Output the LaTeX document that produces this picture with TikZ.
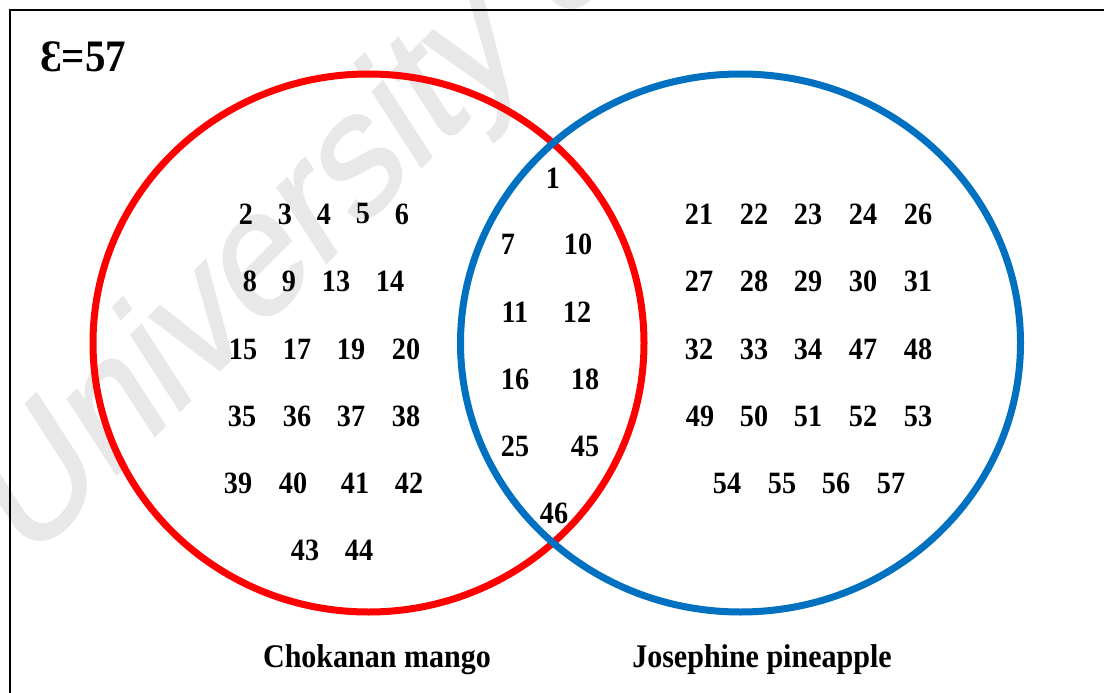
\documentclass[tikz,border=0pt]{standalone}
\usepackage{fontspec}
\setmainfont{Liberation Serif}[FakeStretch=0.91]
\newfontfamily\markfont{Liberation Sans}[FakeBold=1.2]
\definecolor{setred}{HTML}{FF0000}
\definecolor{setblue}{HTML}{0070C0}
\definecolor{markgray}{HTML}{E8E8E8}
\tikzset{
  setline/.style={line width=7pt},
  num/.style={inner sep=0pt, font=\bfseries\fontsize{31}{31}\selectfont},
  setlabel/.style={inner sep=0pt, anchor=base, font=\bfseries\fontsize{33}{33}\selectfont},
  universe/.style={inner sep=0pt, anchor=base west, font=\bfseries\fontsize{45}{45}\selectfont},
  frame/.style={draw=black, line width=2pt},
  wmark/.style={inner sep=0pt, anchor=base west, transform shape, text=markgray,
    font=\markfont\fontsize{147}{147}\selectfont}
}
\begin{document}
\begin{tikzpicture}[x=1pt, y=-1pt]
\useasboundingbox (0,0) rectangle (1104,693);
\clip (0,0) rectangle (1104,693);
\fill[white] (0,0) rectangle (1104,693);

% watermark, slanted and stretched, beneath everything else
\begin{scope}[shift={(26,566)}, yscale=1.25, rotate=38.9]
  \node[wmark] (wm) at (0,0) {University of};
\end{scope}

% outer frame of the universal set
\draw[frame] (9.5,10) rectangle (1120,710);
\node[universe] (U) at (40,72) {Ɛ=57};

% the two sets
\draw[setline, setred] (368.5,343) ellipse [x radius=275.5, y radius=269];
\draw[setline, setblue] (740.5,343) ellipse [x radius=280, y radius=269];

% Chokanan mango only
\node[num] (n2) at (246,214) {2};
\node[num] (n3) at (285,214) {3};
\node[num] (n4) at (324,214) {4};
\node[num] (n5) at (363,214) {5};
\node[num] (n6) at (402,214) {6};
\node[num] (n8) at (250,281) {8};
\node[num] (n9) at (289,281) {9};
\node[num] (n13) at (336,281) {13};
\node[num] (n14) at (390,281) {14};
\node[num] (n15) at (243,349) {15};
\node[num] (n17) at (297,349) {17};
\node[num] (n19) at (351,349) {19};
\node[num] (n20) at (406,349) {20};
\node[num] (n35) at (242,416) {35};
\node[num] (n36) at (297,416) {36};
\node[num] (n37) at (351,416) {37};
\node[num] (n38) at (406,416) {38};
\node[num] (n39) at (238,483) {39};
\node[num] (n40) at (293,483) {40};
\node[num] (n41) at (355,483) {41};
\node[num] (n42) at (409,483) {42};
\node[num] (n43) at (305,550) {43};
\node[num] (n44) at (359,550) {44};

% both sets
\node[num] (n1) at (553,178) {1};
\node[num] (n7) at (508,244) {7};
\node[num] (n10) at (578,244) {10};
\node[num] (n11) at (515,312) {11};
\node[num] (n12) at (577,312) {12};
\node[num] (n16) at (515,379) {16};
\node[num] (n18) at (585,379) {18};
\node[num] (n25) at (515,446) {25};
\node[num] (n45) at (585,446) {45};
\node[num] (n46) at (554,513) {46};

% Josephine pineapple only
\node[num] (n21) at (699,214) {21};
\node[num] (n22) at (754,214) {22};
\node[num] (n23) at (808,214) {23};
\node[num] (n24) at (863,214) {24};
\node[num] (n26) at (918,214) {26};
\node[num] (n27) at (699,281) {27};
\node[num] (n28) at (754,281) {28};
\node[num] (n29) at (808,281) {29};
\node[num] (n30) at (863,281) {30};
\node[num] (n31) at (918,281) {31};
\node[num] (n32) at (699,349) {32};
\node[num] (n33) at (754,349) {33};
\node[num] (n34) at (808,349) {34};
\node[num] (n47) at (863,349) {47};
\node[num] (n48) at (918,349) {48};
\node[num] (n49) at (700,416) {49};
\node[num] (n50) at (754,416) {50};
\node[num] (n51) at (808,416) {51};
\node[num] (n52) at (863,416) {52};
\node[num] (n53) at (918,416) {53};
\node[num] (n54) at (727,483) {54};
\node[num] (n55) at (782,483) {55};
\node[num] (n56) at (836,483) {56};
\node[num] (n57) at (891,483) {57};

% set names
\node[setlabel] (lm) at (377,667) {Chokanan mango};
\node[setlabel] (lp) at (762,667) {Josephine pineapple};
\end{tikzpicture}
\end{document}
